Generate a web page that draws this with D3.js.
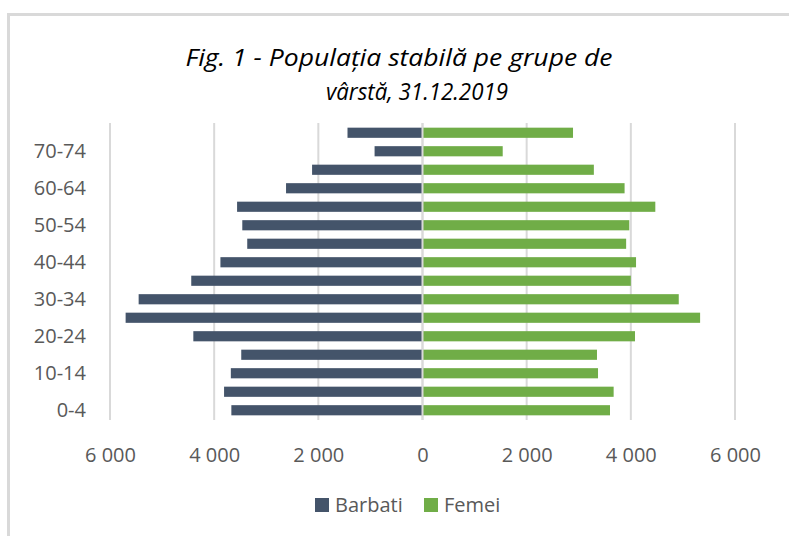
<!DOCTYPE html>
<html>
<head>
<meta charset="utf-8">
<script src="https://cdn.jsdelivr.net/npm/d3@7"></script>
<style>
  body { margin: 0; background: #fff; }
  svg { display: block; }
  text { font-family: "Open Sans", sans-serif; fill: #595959; }
</style>
</head>
<body>
<svg id="chart" width="789" height="536"></svg>
<script>
// Age groups, bottom to top
const ageGroups = ["0-4", "5-9", "10-14", "15-19", "20-24", "25-29", "30-34", "35-39",
  "40-44", "45-49", "50-54", "55-59", "60-64", "65-69", "70-74", "75+"];

// Population by age group (same order as ageGroups)
const barbati = [3670, 3810, 3680, 3480, 4400, 5700, 5450, 4440,
  3880, 3365, 3460, 3560, 2620, 2120, 920, 1440];
const femei = [3600, 3670, 3370, 3350, 4080, 5330, 4920, 4000,
  4100, 3910, 3970, 4470, 3880, 3290, 1540, 2890];

const xTicks = [-6000, -4000, -2000, 0, 2000, 4000, 6000];
const seriesNames = ["Barbati", "Femei"];
const seriesColors = ["#44546a", "#70ad47"];

const svg = d3.select("#chart");

// Chart area border (clipped at the right and bottom edges)
svg.append("rect")
  .attr("x", 8.5).attr("y", 14.5)
  .attr("width", 900).attr("height", 700)
  .attr("fill", "none")
  .attr("stroke", "#d9d9d9")
  .attr("stroke-width", 3);

// Title
const title = svg.append("text")
  .attr("text-anchor", "middle")
  .style("font-family", "'Open Sans', sans-serif")
  .style("font-style", "italic")
  .style("font-size", "24px")
  .style("fill", "#000");
title.append("tspan").attr("x", 399).attr("y", 66)
  .attr("textLength", 427).attr("lengthAdjust", "spacingAndGlyphs")
  .text("Fig. 1 - Populația stabilă pe grupe de");
title.append("tspan").attr("x", 417).attr("y", 100)
  .attr("textLength", 182).attr("lengthAdjust", "spacingAndGlyphs")
  .text("vârstă, 31.12.2019");

// Scales
const x = d3.scaleLinear().domain([-6000, 6000]).range([110, 735]);
const y = d3.scaleBand().domain(ageGroups).range([419.5, 123.5]).paddingInner(0.45).paddingOuter(0.225);

// Vertical gridlines
svg.append("g")
  .selectAll("line")
  .data(xTicks)
  .enter()
  .append("line")
  .attr("x1", d => x(d)).attr("x2", d => x(d))
  .attr("y1", 123).attr("y2", 420)
  .attr("stroke", "#d9d9d9")
  .attr("stroke-width", 2);

// Bars: men to the left, women to the right
const rows = ageGroups.map((g, i) => ({ group: g, barbati: barbati[i], femei: femei[i] }));

svg.append("g")
  .selectAll("rect")
  .data(rows)
  .enter()
  .append("rect")
  .attr("x", d => x(-d.barbati))
  .attr("y", d => y(d.group))
  .attr("width", d => x(0) - x(-d.barbati))
  .attr("height", y.bandwidth())
  .attr("fill", seriesColors[0]);

svg.append("g")
  .selectAll("rect")
  .data(rows)
  .enter()
  .append("rect")
  .attr("x", x(0))
  .attr("y", d => y(d.group))
  .attr("width", d => x(d.femei) - x(0))
  .attr("height", y.bandwidth())
  .attr("fill", seriesColors[1]);

// Zero line on top of the bars
svg.append("line")
  .attr("x1", x(0)).attr("x2", x(0))
  .attr("y1", 123).attr("y2", 420)
  .attr("stroke", "#d9d9d9")
  .attr("stroke-width", 2);

// X axis labels (absolute values, space as thousands separator)
const fmt = d => d3.format(",")(Math.abs(d)).replace(/,/g, " ");
const xAxis = svg.append("g")
  .attr("transform", "translate(0, 445)")
  .call(d3.axisBottom(x).tickValues(xTicks).tickFormat(fmt).tickSize(0));
xAxis.select(".domain").remove();
xAxis.selectAll("text")
  .attr("dy", "0.71em")
  .style("font-size", "20px")
  .style("font-family", "'Open Sans', sans-serif")
  .attr("fill", "#595959");

// Y axis labels, every other age group
const yAxis = svg.append("g")
  .attr("transform", "translate(86, 0)")
  .call(d3.axisLeft(y).tickValues(ageGroups.filter((_, i) => i % 2 === 0)).tickSize(0).tickPadding(0));
yAxis.select(".domain").remove();
yAxis.selectAll("text")
  .style("font-size", "20px")
  .style("font-family", "'Open Sans', sans-serif")
  .attr("fill", "#595959");

// Legend
const legendX = [315, 424];
const legend = svg.append("g")
  .selectAll("g")
  .data(seriesNames)
  .enter()
  .append("g")
  .attr("transform", (d, i) => `translate(${legendX[i]}, 498)`);
legend.append("rect")
  .attr("width", 14).attr("height", 14)
  .attr("fill", (d, i) => seriesColors[i]);
legend.append("text")
  .attr("x", 20).attr("y", 14)
  .style("font-size", "20px")
  .text(d => d);
</script>
</body>
</html>
